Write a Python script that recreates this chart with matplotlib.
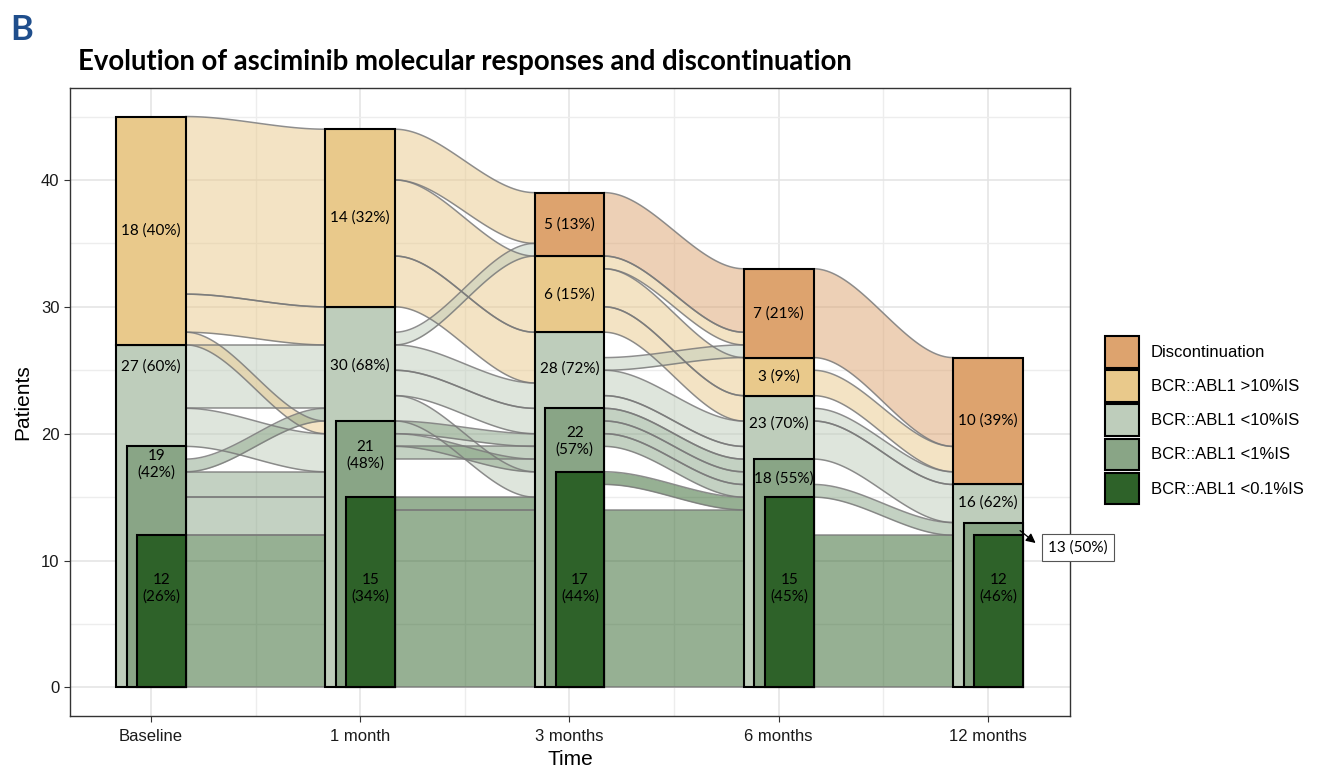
import numpy as np
import matplotlib.pyplot as plt
from matplotlib.patches import Rectangle, Patch

# time points and counts per response level (nested: <1% is part of <10%, etc.)
time_labels = ["Baseline", "1 month", "3 months", "6 months", "12 months"]
n_disc = [0, 0, 5, 7, 10]
n_gt10 = [18, 14, 6, 3, 0]
n_lt10 = [27, 30, 28, 23, 16]
n_lt1 = [19, 21, 22, 18, 13]
n_lt01 = [12, 15, 17, 15, 12]

# percentages as printed on the figure
pct_disc = [None, None, 13, 21, 39]
pct_gt10 = [40, 32, 15, 9, None]
pct_lt10 = [60, 68, 72, 70, 62]
pct_lt1 = [42, 48, 57, 55, 50]
pct_lt01 = [26, 34, 44, 45, 46]

legend_labels = ["Discontinuation", "BCR::ABL1 >10%IS", "BCR::ABL1 <10%IS",
                 "BCR::ABL1 <1%IS", "BCR::ABL1 <0.1%IS"]
colors = ["#DDA36E", "#E9C98B", "#BECDBB", "#89A586", "#2E6229"]

# flows between consecutive time points:
# (from_low, from_high, to_low, to_high, source category)
# category: 0 disc, 1 >10%, 2 1-10%, 3 0.1-1%, 4 <0.1%
flows_0_1 = [(31, 45, 30, 44, 1), (28, 31, 27, 30, 1), (22, 27, 22, 27, 2),
             (19, 22, 17, 20, 2), (15, 17, 15, 17, 3), (12, 15, 12, 15, 3),
             (0, 12, 0, 12, 4), (27, 28, 20, 21, 1), (17, 18, 21, 22, 3)]
flows_1_2 = [(40, 44, 35, 39, 1), (34, 40, 28, 34, 1), (30, 34, 24, 28, 1),
             (25, 27, 22, 24, 2), (23, 25, 20, 22, 2), (21, 23, 15, 17, 2),
             (20, 21, 19, 20, 3), (18, 19, 18, 19, 3), (19, 20, 17, 18, 3),
             (14, 15, 14, 15, 4), (0, 14, 0, 14, 4), (27, 28, 34, 35, 2)]
flows_2_3 = [(34, 39, 28, 33, 0), (33, 34, 27, 28, 1), (30, 33, 23, 26, 1),
             (28, 30, 21, 23, 1), (23, 25, 19, 21, 2), (22, 23, 18, 19, 2),
             (21, 22, 17, 18, 3), (20, 21, 16, 17, 3), (19, 20, 15, 16, 3),
             (16, 17, 14, 15, 4), (0, 14, 0, 14, 4), (25, 26, 26, 27, 2)]
flows_3_4 = [(26, 33, 19, 26, 0), (23, 25, 17, 19, 1), (21, 22, 16, 17, 2),
             (18, 21, 13, 16, 2), (15, 16, 12, 13, 3), (0, 12, 0, 12, 4)]
all_flows = [flows_0_1, flows_1_2, flows_2_3, flows_3_4]

# label heights (layout only)
label_y_lt10 = [25.3, 25.4, 25.1, 20.8, 14.6]
label_y_lt1 = [17.6, 18.3, 19.4, 16.5, None]
label_y_lt01 = 7.8

lato = ["Lato", "DejaVu Sans"]
plt.rcParams['font.family'] = ["Liberation Sans", "DejaVu Sans"]

fig = plt.figure(figsize=(13.21, 7.69), dpi=100)
ax = fig.add_axes([0.053, 0.0689, 0.757, 0.8167])

w = 1 / 3


def draw_flow(x0, x1, a0, a1, b0, b1, color):
    t = np.linspace(0, 1, 80)
    s = t * t * (3 - 2 * t)
    x = x0 + (x1 - x0) * t
    lo = a0 + (b0 - a0) * s
    hi = a1 + (b1 - a1) * s
    ax.fill_between(x, lo, hi, color=color, alpha=0.5, lw=0, zorder=2)
    ax.plot(x, lo, color="#7a7a7a", lw=1.1, alpha=0.85, zorder=2.1)
    ax.plot(x, hi, color="#7a7a7a", lw=1.1, alpha=0.85, zorder=2.1)


for i, flows in enumerate(all_flows):
    x0 = i + 1 + w / 2
    x1 = i + 2 - w / 2
    for a0, a1, b0, b1, cat in flows:
        draw_flow(x0, x1, a0, a1, b0, b1, colors[cat])

# bars
fs = 11
for i in range(len(time_labels)):
    xc = i + 1
    left = xc - w / 2
    ax.add_patch(Rectangle((left, 0), w, n_lt10[i], fc=colors[2], ec="black", lw=1.5, zorder=3))
    if n_gt10[i]:
        ax.add_patch(Rectangle((left, n_lt10[i]), w, n_gt10[i], fc=colors[1], ec="black", lw=1.5, zorder=3))
    if n_disc[i]:
        ax.add_patch(Rectangle((left, n_lt10[i] + n_gt10[i]), w, n_disc[i], fc=colors[0],
                               ec="black", lw=1.5, zorder=3))
    ax.add_patch(Rectangle((left + 0.05, 0), w - 0.05, n_lt1[i], fc=colors[3], ec="black", lw=1.5, zorder=3.1))
    ax.add_patch(Rectangle((left + 0.10, 0), w - 0.10, n_lt01[i], fc=colors[4], ec="black", lw=1.5, zorder=3.2))

    if n_disc[i]:
        ax.text(xc, n_lt10[i] + n_gt10[i] + n_disc[i] / 2, f"{n_disc[i]} ({pct_disc[i]}%)",
                ha="center", va="center", fontsize=fs, family=lato, zorder=5)
    if n_gt10[i]:
        ax.text(xc, n_lt10[i] + n_gt10[i] / 2, f"{n_gt10[i]} ({pct_gt10[i]}%)",
                ha="center", va="center", fontsize=fs, family=lato, zorder=5)
    ax.text(xc, label_y_lt10[i], f"{n_lt10[i]} ({pct_lt10[i]}%)",
            ha="center", va="center", fontsize=fs, family=lato, zorder=5)
    if label_y_lt1[i] is not None:
        sep = " " if i == 3 else "\n"
        ax.text(xc + 0.025, label_y_lt1[i], f"{n_lt1[i]}{sep}({pct_lt1[i]}%)",
                ha="center", va="center", fontsize=fs, family=lato, zorder=5, linespacing=1.25)
    ax.text(xc + 0.05, label_y_lt01, f"{n_lt01[i]}\n({pct_lt01[i]}%)",
            ha="center", va="center", fontsize=fs, family=lato, zorder=5, linespacing=1.25)

# outside label for 12 months <1%
ax.annotate("", xy=(5.238, 11.25), xytext=(5.143, 12.5),
            arrowprops=dict(arrowstyle="-|>", color="black", lw=0.9, mutation_scale=14),
            annotation_clip=False, zorder=6)
ax.text(5.43, 11.0, f"{n_lt1[4]} ({pct_lt1[4]}%)", ha="center", va="center", fontsize=11,
        family=lato, clip_on=False, zorder=6,
        bbox=dict(boxstyle="square,pad=0.42", fc="white", ec="#555555", lw=0.8))

ax.set_xlim(0.613, 5.392)
ax.set_ylim(-2.25, 47.25)
ax.set_xticks(range(1, 6))
ax.set_xticklabels(time_labels, fontsize=12)
ax.set_yticks([0, 10, 20, 30, 40])
ax.tick_params(axis="both", labelsize=12, colors="#333333", length=4, labelcolor="#1a1a1a")
ax.tick_params(axis="x", pad=5)
ax.set_xticks([1.5, 2.5, 3.5, 4.5], minor=True)
ax.set_yticks([5, 15, 25, 35, 45], minor=True)
ax.tick_params(which="minor", length=0)
ax.grid(True, which="major", color="#E3E3E3", lw=1.1, zorder=0)
ax.grid(True, which="minor", color="#EDEDED", lw=1.0, zorder=0)
ax.set_axisbelow(True)
for sp in ax.spines.values():
    sp.set_color("#333333")
    sp.set_linewidth(1.0)

ax.set_xlabel("Time", fontsize=15, labelpad=5)
ax.set_ylabel("Patients", fontsize=15, labelpad=6)

handles = [Patch(fc=c, ec="black", lw=1.5) for c in colors]
ax.legend(handles, legend_labels, loc="center left", bbox_to_anchor=(1.035, 0.471),
          frameon=False, fontsize=12, handlelength=2.05, handleheight=2.55,
          labelspacing=0.15, handletextpad=0.7, borderpad=0, borderaxespad=0)

fig.text(0.0076, 0.961, "B", fontsize=25, fontweight="bold", color="#1F4E8C",
         ha="left", va="center", family=lato)
fig.text(0.059, 0.919, "Evolution of asciminib molecular responses and discontinuation",
         fontsize=19.8, fontweight="bold", ha="left", va="center", family=lato)

fig.savefig("out.png", dpi=100)
